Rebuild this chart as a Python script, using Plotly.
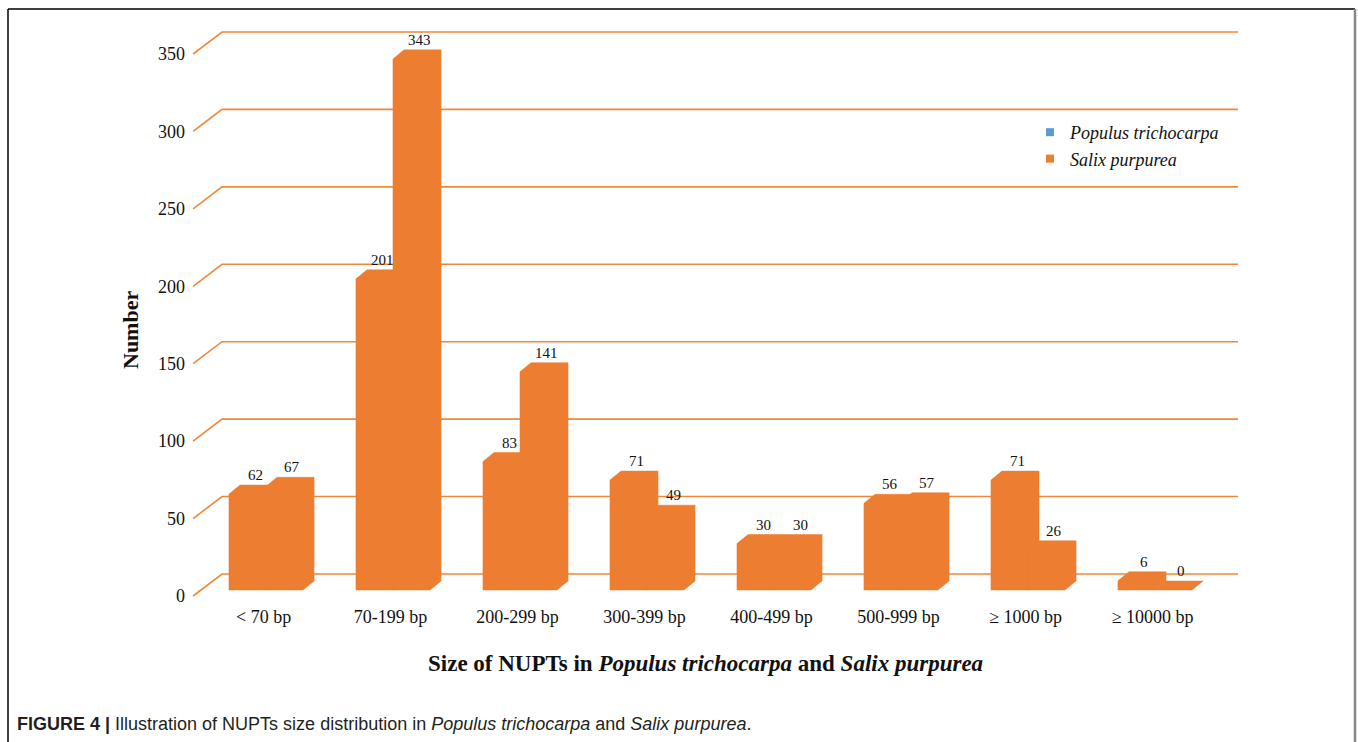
import plotly.graph_objects as go

# ---- data ----
categories = ["< 70 bp", "70-199 bp", "200-299 bp", "300-399 bp",
              "400-499 bp", "500-999 bp", "\u2265 1000 bp", "\u2265 10000 bp"]
populus = [62, 201, 83, 71, 30, 56, 71, 6]
salix = [67, 343, 141, 49, 30, 57, 26, 0]
y_ticks = [0, 50, 100, 150, 200, 250, 300, 350]
series_names = ["Populus trichocarpa", "Salix purpurea"]
legend_colors = ["#5B9BD5", "#ED7D31"]

# ---- layout geometry (pixels) ----
FIG_W, FIG_H = 1358, 742
L, R, T, B = 188, 1262, 20, 600
PW, PH = R - L, B - T
X0PX, XSCALE = 195.0, 127.0     # front plane: category index -> px
Y0PX, YSCALE = 596.0, 1.5486    # front plane: value -> px
xr = [(L - X0PX) / XSCALE, (R - X0PX) / XSCALE]
yr = [(Y0PX - B) / YSCALE, (Y0PX - T) / YSCALE]

DX = 27.0 / XSCALE   # full depth in x units
DV = 22.0 / YSCALE   # full depth in value units
F0, F1 = 0.27, 0.68  # bar front/back depth fractions
CL0, BW = 0.21, 0.2915  # cluster start within category, single bar width

BAR = "#ED7D31"
GRID = "#F0883A"
SERIF = "Liberation Serif, Times New Roman, serif"
SANS = "Liberation Sans, Arial, sans-serif"


def px2x(px):
    return (px - L) / PW


def py2y(py):
    return (B - py) / PH


fig = go.Figure()

# back-wall gridlines + slanted floor/edge lines
gx, gy = [], []
for v in y_ticks:
    gx += [-0.015, DX, 8 + DX, None]
    gy += [v, v + DV, v + DV, None]
fig.add_trace(go.Scatter(x=gx, y=gy, mode="lines",
                         line=dict(color=GRID, width=1.6),
                         hoverinfo="skip", showlegend=False))

# pseudo-3D bars
annots = []
for s, vals in enumerate([populus, salix]):
    px_, py_ = [], []
    for i, v in enumerate(vals):
        xl = i + CL0 + s * BW
        xrgt = xl + BW
        pts = [(xl + DX * F0, DV * F0), (xrgt + DX * F0, DV * F0),
               (xrgt + DX * F1, DV * F1), (xrgt + DX * F1, v + DV * F1),
               (xl + DX * F1, v + DV * F1), (xl + DX * F0, v + DV * F0),
               (xl + DX * F0, DV * F0)]
        px_ += [p[0] for p in pts] + [None]
        py_ += [p[1] for p in pts] + [None]
        annots.append(dict(x=xl + BW / 2 + DX * 0.55, y=v + DV * F1,
                           xref="x", yref="y", text=str(v), showarrow=False,
                           yanchor="bottom", yshift=0,
                           font=dict(family=SERIF, size=15, color="#111")))
    fig.add_trace(go.Scatter(x=px_, y=py_, mode="lines", fill="toself",
                             fillcolor=BAR, line=dict(color=BAR, width=0.5),
                             hoverinfo="skip", showlegend=False))

# legend entries
for name, col in zip(series_names, legend_colors):
    fig.add_trace(go.Scatter(x=[None], y=[None], mode="markers", name=name,
                             marker=dict(symbol="square", size=8, color=col)))

# axis title annotations and caption
annots.append(dict(x=px2x(130), y=py2y(330), xref="paper", yref="paper",
                   xanchor="center", yanchor="middle",
                   text="<b>Number</b>", textangle=-90, showarrow=False,
                   font=dict(family=SERIF, size=22, color="#111")))
annots.append(dict(x=px2x(705), y=py2y(663), xref="paper", yref="paper",
                   xanchor="center", yanchor="middle",
                   text="<b>Size of NUPTs in <i>Populus trichocarpa</i> and <i>Salix purpurea</i></b>",
                   showarrow=False, font=dict(family=SERIF, size=23, color="#111")))
annots.append(dict(x=px2x(15), y=py2y(724), xref="paper", yref="paper",
                   xanchor="left", yanchor="middle",
                   text="<b>FIGURE 4 |</b> Illustration of NUPTs size distribution in "
                        "<i>Populus trichocarpa</i> and <i>Salix purpurea</i>.",
                   showarrow=False, font=dict(family=SANS, size=18, color="#231F20")))

shapes = [
    dict(type="line", xref="paper", yref="paper", x0=px2x(8), x1=px2x(1355),
         y0=py2y(9), y1=py2y(9), line=dict(color="black", width=1.5)),
    dict(type="line", xref="paper", yref="paper", x0=px2x(8), x1=px2x(8),
         y0=py2y(9), y1=py2y(745), line=dict(color="black", width=1.5)),
    dict(type="line", xref="paper", yref="paper", x0=px2x(1355), x1=px2x(1355),
         y0=py2y(9), y1=py2y(745), line=dict(color="#888", width=2.5)),
]

fig.update_layout(
    width=FIG_W, height=FIG_H,
    margin=dict(l=L, r=FIG_W - R, t=T, b=FIG_H - B),
    paper_bgcolor="white", plot_bgcolor="white",
    xaxis=dict(range=xr, showgrid=False, zeroline=False, showline=False,
               tickmode="array", tickvals=[i + 0.54 for i in range(len(categories))],
               ticktext=categories, ticks="", ticklabelstandoff=4,
               tickfont=dict(family=SERIF, size=18, color="#111")),
    yaxis=dict(range=yr, showgrid=False, zeroline=False, showline=False,
               tickmode="array", tickvals=y_ticks, ticks="", ticklabelstandoff=2,
               tickfont=dict(family=SERIF, size=18, color="#111")),
    legend=dict(x=px2x(1030), y=py2y(114), xanchor="left", yanchor="top",
                font=dict(family=SERIF, size=18, color="#111", style="italic"),
                bgcolor="rgba(0,0,0,0)", itemwidth=30, tracegroupgap=0),
    annotations=annots, shapes=shapes,
)

fig.write_html("out.html")
